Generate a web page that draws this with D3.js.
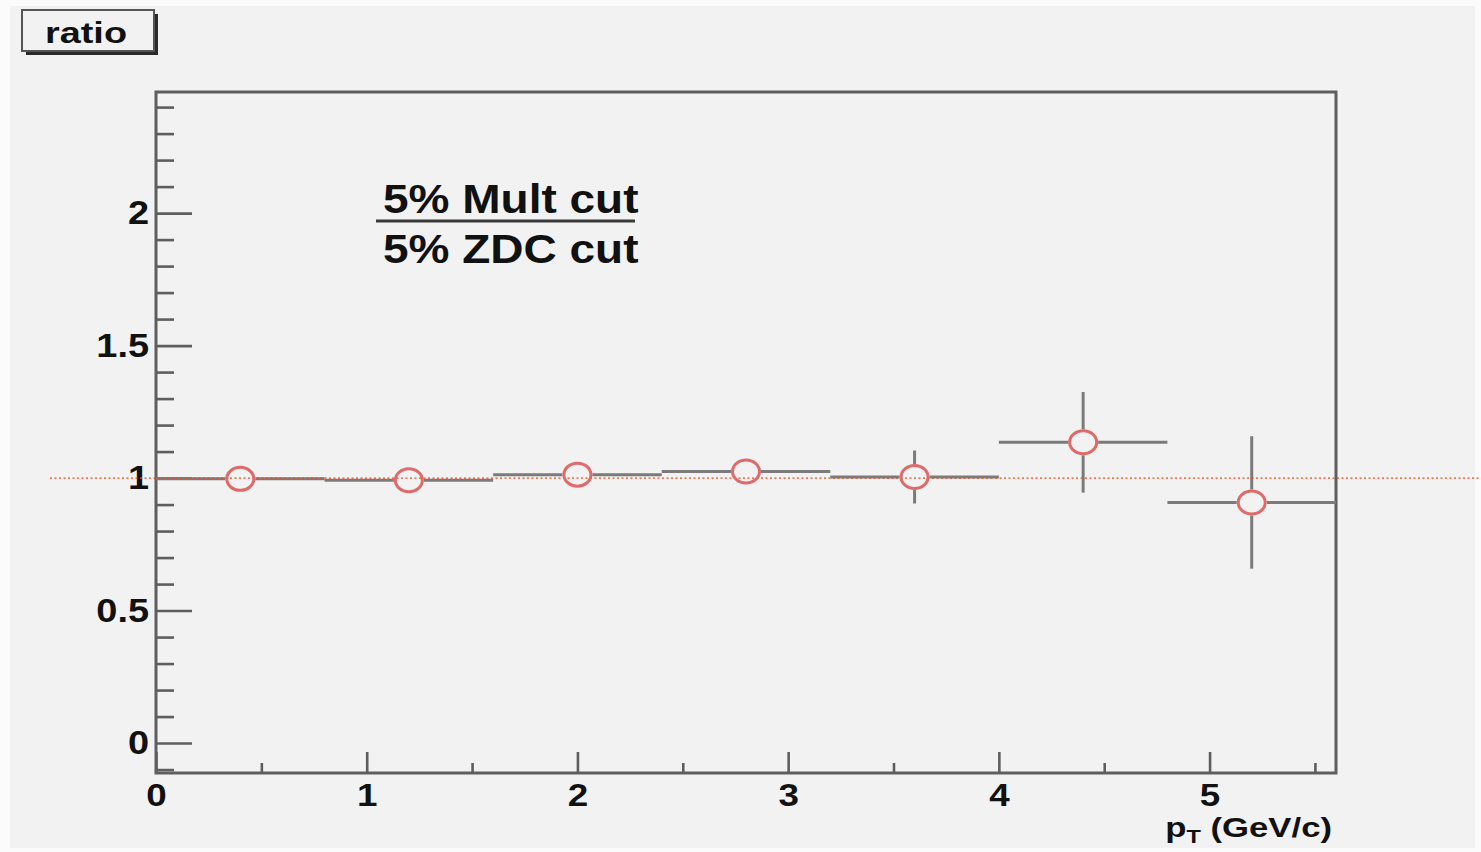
<!DOCTYPE html>
<html>
<head>
<meta charset="utf-8">
<script src="https://cdn.jsdelivr.net/npm/d3@7"></script>
<style>
  html, body { margin: 0; padding: 0; background: #fbfbfb; }
  svg { display: block; }
  text { font-family: "Liberation Sans", Arial, Helvetica, sans-serif; font-weight: bold; fill: #111; }
</style>
</head>
<body>
<svg id="chart" width="1481" height="852"></svg>
<script>
// ---- data ----
const ptCenters = [0.4, 1.2, 2.0, 2.8, 3.6, 4.4, 5.2];
const ptHalfWidth = [0.4, 0.4, 0.4, 0.4, 0.4, 0.4, 0.4];
const ratioValues = [0.997, 0.992, 1.013, 1.025, 1.004, 1.135, 0.908];
const ratioErrors = [0.015, 0.02, 0.025, 0.03, 0.10, 0.19, 0.25];
const xMajorTicks = [0, 1, 2, 3, 4, 5];
const xMinorTicks = [0.5, 1.5, 2.5, 3.5, 4.5, 5.5];
const yMajorTicks = [0, 0.5, 1, 1.5, 2];
const yMinorTicks = [-0.1, 0.1, 0.2, 0.3, 0.4, 0.6, 0.7, 0.8, 0.9, 1.1, 1.2, 1.3, 1.4, 1.6, 1.7, 1.8, 1.9, 2.1, 2.2, 2.3, 2.4];
const yTickLabels = ["0", "0.5", "1", "1.5", "2"];
const xTickLabels = ["0", "1", "2", "3", "4", "5"];
const titleText = "ratio";
const legendNumerator = "5% Mult cut";
const legendDenominator = "5% ZDC cut";
const referenceLevel = 1;

// ---- layout ----
const svg = d3.select("#chart");
const W = 1481, H = 852;
const frame = { left: 156, right: 1336, top: 92, bottom: 773 };
const SX = 1.15; // horizontal stretch of glyphs in the reference

svg.append("rect").attr("x", 10).attr("y", 6).attr("width", 1465).attr("height", 842).attr("fill", "#f2f2f2");

const x = d3.scaleLinear().domain([0, 5.6]).range([frame.left, frame.right]);
const y = d3.scaleLinear().domain([-0.113, 2.457]).range([frame.bottom, frame.top]);

const axisColor = "#5e5e5e";

// y axis minor
const gyMinor = svg.append("g").attr("transform", `translate(${frame.left},0)`)
  .call(d3.axisLeft(y).tickValues(yMinorTicks).tickSize(-18).tickSizeOuter(0).tickFormat(""));
// y axis major
const gy = svg.append("g").attr("transform", `translate(${frame.left},0)`)
  .call(d3.axisLeft(y).tickValues(yMajorTicks).tickSize(-36).tickSizeOuter(0).tickPadding(6)
    .tickFormat((d, i) => yTickLabels[i]));
// x axis minor
const gxMinor = svg.append("g").attr("transform", `translate(0,${frame.bottom})`)
  .call(d3.axisBottom(x).tickValues(xMinorTicks).tickSize(-10).tickSizeOuter(0).tickFormat(""));
// x axis major
const gx = svg.append("g").attr("transform", `translate(0,${frame.bottom})`)
  .call(d3.axisBottom(x).tickValues(xMajorTicks).tickSize(-21).tickSizeOuter(0).tickPadding(10)
    .tickFormat((d, i) => xTickLabels[i]));

[gyMinor, gy, gxMinor, gx].forEach(g => {
  g.select(".domain").remove();
  g.selectAll(".tick line").attr("stroke", axisColor).attr("stroke-width", 2.6);
  g.selectAll("text").attr("font-size", 33).attr("fill", "#111")
    .attr("font-family", null)
    .attr("transform", `scale(${SX},1)`);
});
gx.selectAll("text").attr("x", 0).attr("font-size", 32);

// frame
svg.append("rect")
  .attr("x", frame.left).attr("y", frame.top)
  .attr("width", frame.right - frame.left).attr("height", frame.bottom - frame.top)
  .attr("fill", "none").attr("stroke", axisColor).attr("stroke-width", 3);

// x axis title
const xt = svg.append("text")
  .attr("text-anchor", "end")
  .attr("font-size", 28)
  .attr("transform", `translate(1332,837) scale(1.24,1)`);
xt.append("tspan").text("p");
xt.append("tspan").attr("font-size", 19).attr("dy", 6).text("T");
xt.append("tspan").attr("dy", -6).text(" (GeV/c)");

// data error bars
const errColor = "#7b7b7b";
const rx = 15, ry = 13;
const pts = ptCenters.map((c, i) => ({ c, hw: ptHalfWidth[i], v: ratioValues[i], e: ratioErrors[i] }));
const gErr = svg.append("g").attr("stroke", errColor).attr("stroke-width", 3).attr("fill", "none");
pts.forEach(p => {
  const cx = x(p.c), cy = y(p.v);
  const segs = [
    [x(p.c - p.hw), cy, cx - rx, cy],
    [cx + rx, cy, x(p.c + p.hw), cy]
  ];
  if (y(p.v - p.e) - cy > ry) {
    segs.push([cx, cy - ry, cx, y(p.v + p.e)]);
    segs.push([cx, cy + ry, cx, y(p.v - p.e)]);
  }
  segs.forEach(s => gErr.append("line").attr("x1", s[0]).attr("y1", s[1]).attr("x2", s[2]).attr("y2", s[3]));
});

// reference dotted line at 1
svg.append("line")
  .attr("x1", 50).attr("x2", W)
  .attr("y1", y(referenceLevel)).attr("y2", y(referenceLevel))
  .attr("stroke", "#ee4a1e").attr("stroke-width", 1.4).attr("stroke-dasharray", "2,2.5");

// markers
svg.append("g").selectAll("ellipse").data(pts).join("ellipse")
  .attr("cx", d => x(d.c)).attr("cy", d => y(d.v))
  .attr("rx", rx - 1.5).attr("ry", ry - 1.5)
  .attr("fill", "none").attr("stroke", "#e06a6a").attr("stroke-width", 3);

// legend
svg.append("text").attr("font-size", 40)
  .attr("transform", `translate(383,213) scale(${SX},1)`).text(legendNumerator);
svg.append("line").attr("x1", 376).attr("x2", 635).attr("y1", 221).attr("y2", 221)
  .attr("stroke", "#3a3a3a").attr("stroke-width", 3.2);
svg.append("text").attr("font-size", 40)
  .attr("transform", `translate(383,263) scale(${SX},1)`).text(legendDenominator);

// title box with shadow
svg.append("rect").attr("x", 26).attr("y", 14).attr("width", 132).attr("height", 41).attr("fill", "#2a2a2a");
svg.append("rect").attr("x", 22).attr("y", 10).attr("width", 132).attr("height", 41)
  .attr("fill", "#f2f2f2").attr("stroke", "#555").attr("stroke-width", 2);
svg.append("text").attr("x", 86).attr("y", 43).attr("text-anchor", "middle")
  .attr("font-size", 29).attr("textLength", 82).attr("lengthAdjust", "spacingAndGlyphs").text(titleText);
</script>
</body>
</html>
